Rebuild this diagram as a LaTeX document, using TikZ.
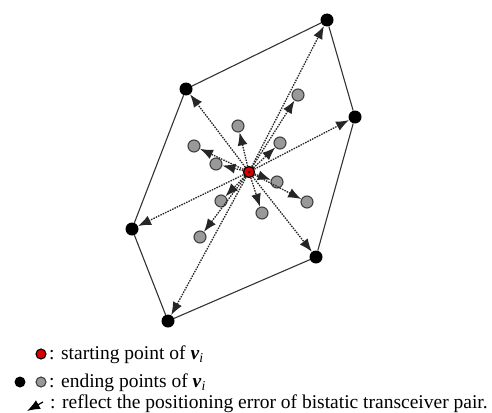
\documentclass[tikz,border=0pt]{standalone}
\usepackage{fontspec}
\setmainfont{Liberation Serif}
\usetikzlibrary{arrows.meta}
\begin{document}
\begin{tikzpicture}[x=1pt,y=-1pt,
  blk/.style={circle,fill=black,minimum size=13pt,inner sep=0pt},
  gry/.style={circle,fill=black!40,draw=black!75,line width=1.1pt,minimum size=12pt,inner sep=0pt},
  red/.style={circle,fill=red!85!black,draw=black,line width=1.1pt,minimum size=11pt,inner sep=0pt},
  arr/.style={dash pattern=on 1.5pt off 1.1pt,line width=1.3pt,black!85,-{Latex[length=13pt,width=10pt]}},
  edge/.style={line width=1.1pt,black!80},
  txt/.style={anchor=base west,inner sep=0pt,font=\fontsize{19.5}{21}\selectfont}
]
\useasboundingbox (0,0) rectangle (492,412);
% hexagon nodes
\node[blk] (b1) at (327,20) {};
\node[blk] (b2) at (355,117) {};
\node[blk] (b3) at (316,257) {};
\node[blk] (b4) at (168,321) {};
\node[blk] (b5) at (132,229) {};
\node[blk] (b6) at (186,89) {};
\draw[edge] (b1) -- (b2) -- (b3) -- (b4) -- (b5) -- (b6) -- (b1);
% gray nodes
\node[gry] (g1) at (298,95) {};
\node[gry] (g2) at (238,126) {};
\node[gry] (g3) at (194,146) {};
\node[gry] (g4) at (280,143) {};
\node[gry] (g5) at (216,164) {};
\node[gry] (g6) at (277,182) {};
\node[gry] (g7) at (307,202) {};
\node[gry] (g8) at (262,213) {};
\node[gry] (g9) at (221,201) {};
\node[gry] (g10) at (200,237) {};
% centre
\node[red] (c) at (249,172) {};
\foreach \n in {b1,b2,b3,b4,b5,b6,g1,g2,g3,g4,g5,g6,g7,g8,g9,g10}
  \draw[arr] (c) -- (\n);
\node[red] (c2) at (249,172) {};
\node[circle,fill=black!70!red,minimum size=3pt,inner sep=0pt] (cc) at (249,172) {};
% legend
\node[red,minimum size=10pt] (lr) at (41,354) {};
\node[txt] (t1) at (49,359) {: starting point of \textbf{\textit{v}}\textsubscript{\textit{i}}};
\node[blk,minimum size=11pt] (lb) at (20,382) {};
\node[gry,minimum size=10pt] (lg) at (41,382) {};
\node[txt] (t2) at (49,387) {: ending points of \textbf{\textit{v}}\textsubscript{\textit{i}}};
\coordinate (la) at (43,402);
\coordinate (lh) at (27,411);
\draw[line width=1.2pt,-{Latex[length=13pt,width=10pt]}] (la) -- (lh);
\node[txt] (t3) at (50,408) {: reflect the positioning error of bistatic transceiver pair.};
\end{tikzpicture}
\end{document}
